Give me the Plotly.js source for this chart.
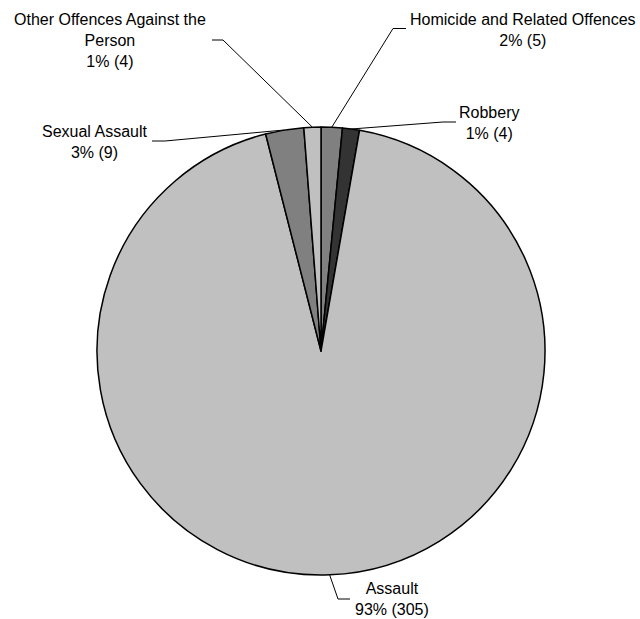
<!DOCTYPE html>
<html><head><meta charset="utf-8">
<script src="https://cdn.plot.ly/plotly-3.0.1.min.js"></script>
<style>html,body{margin:0;padding:0;background:#fff}</style>
</head><body><div id="chart" style="width:640px;height:619px"></div>
<script>
// Data
const categories = ['Homicide and Related Offences', 'Robbery', 'Assault', 'Sexual Assault', 'Other Offences Against the Person'];
const labelNames = ['Homicide and Related Offences', 'Robbery', 'Assault', 'Sexual Assault', 'Other Offences Against the<br>Person'];
const counts = [5, 4, 305, 9, 4];
const colors = ['#808080', '#333333', '#c0c0c0', '#808080', '#c0c0c0'];

// Layout geometry (pixels)
const W = 640, H = 619, cx = 321, cy = 351, R = 224;
// label block centres and leader elbows / ends (layout only)
const labelPos = [[523, 30], [489, 123], [392, 599], [95, 142], [110, 40]];
const elbows = [[[393, 28.5], [406, 28.5]], [[443, 122], [456, 122]], [[338, 599], [350, 599]], [[165, 141], [152, 141]], [[223, 40], [212, 40]]];

const total = counts.reduce((a, b) => a + b, 0);
const traces = [{
  type: 'pie', labels: categories, values: counts, sort: false, direction: 'clockwise', rotation: 0,
  marker: {colors: colors, line: {color: '#000', width: 1.5}},
  textinfo: 'none', hoverinfo: 'none', showlegend: false,
  domain: {x: [(cx - R) / W, (cx + R) / W], y: [1 - (cy + R) / H, 1 - (cy - R) / H]}
}];
const annotations = [];
let cum = 0;
counts.forEach((v, i) => {
  const th = 2 * Math.PI * (cum + v / 2) / total;
  cum += v;
  const ex = cx + R * Math.sin(th), ey = cy - R * Math.cos(th);
  traces.push({type: 'scatter', mode: 'lines', x: [ex, elbows[i][0][0], elbows[i][1][0]], y: [ey, elbows[i][0][1], elbows[i][1][1]],
    line: {color: '#000', width: 1}, hoverinfo: 'none', showlegend: false, xaxis: 'x', yaxis: 'y'});
  const pct = Math.round(v / total * 100);
  annotations.push({xref: 'x', yref: 'y', x: labelPos[i][0], y: labelPos[i][1], xanchor: 'center', yanchor: 'middle',
    text: labelNames[i] + '<br>' + pct + '% (' + v + ')', showarrow: false, align: 'center',
    font: {family: 'Liberation Sans, Arial', size: 16, color: '#000'}});
});
const layout = {
  width: W, height: H, margin: {l: 0, r: 0, t: 0, b: 0}, paper_bgcolor: '#fff', plot_bgcolor: 'rgba(0,0,0,0)',
  xaxis: {range: [0, W], visible: false, fixedrange: true, domain: [0, 1]},
  yaxis: {range: [H, 0], visible: false, fixedrange: true, domain: [0, 1]},
  annotations: annotations, showlegend: false
};
Plotly.newPlot('chart', traces, layout, {staticPlot: true});
</script></body></html>
